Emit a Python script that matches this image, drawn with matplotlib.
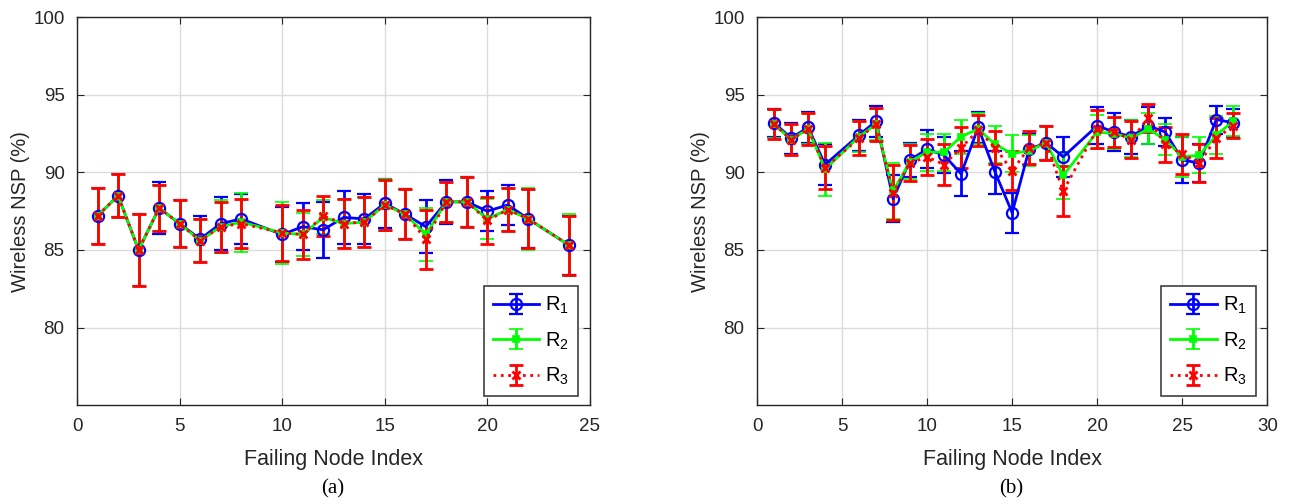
import matplotlib
matplotlib.use("Agg")
import matplotlib.pyplot as plt

plt.rcParams['font.family'] = ['Liberation Sans', 'DejaVu Sans']
plt.rcParams['mathtext.default'] = 'regular'

# ---- panel (a) ----
xa = [1, 2, 3, 4, 5, 6, 7, 8, 10, 11, 12, 13, 14, 15, 16, 17, 18, 19, 20, 21, 22, 24]
a_r1 = [87.2, 88.5, 85.0, 87.7, 86.7, 85.7, 86.7, 87.0, 86.0, 86.5, 86.3, 87.1, 87.0, 88.0, 87.3, 86.5, 88.1, 88.1, 87.5, 87.9, 87.0, 85.3]
a_r2 = [87.2, 88.5, 85.0, 87.7, 86.7, 85.6, 86.5, 86.8, 86.1, 86.0, 87.1, 86.7, 86.8, 87.9, 87.3, 86.0, 88.1, 88.1, 87.0, 87.6, 87.0, 85.3]
a_r3 = [87.2, 88.5, 85.0, 87.7, 86.7, 85.6, 86.5, 86.7, 86.1, 86.0, 87.2, 86.7, 86.8, 87.9, 87.3, 85.7, 88.1, 88.1, 86.9, 87.6, 87.0, 85.3]
a_e1 = [1.8, 1.4, 2.3, 1.7, 1.5, 1.5, 1.7, 1.6, 1.8, 1.5, 1.8, 1.7, 1.6, 1.6, 1.6, 1.7, 1.4, 1.6, 1.3, 1.3, 1.9, 1.9]
a_e2 = [1.8, 1.4, 2.3, 1.5, 1.5, 1.4, 1.7, 1.9, 2.0, 1.4, 1.1, 1.6, 1.6, 1.7, 1.6, 1.7, 1.3, 1.6, 1.3, 1.4, 2.0, 2.0]
a_e3 = [1.8, 1.4, 2.3, 1.5, 1.5, 1.4, 1.6, 1.6, 1.8, 1.6, 1.3, 1.6, 1.6, 1.6, 1.6, 1.9, 1.3, 1.6, 1.5, 1.4, 1.9, 1.9]

# ---- panel (b) ----
xb = [1, 2, 3, 4, 6, 7, 8, 9, 10, 11, 12, 13, 14, 15, 16, 17, 18, 20, 21, 22, 23, 24, 25, 26, 27, 28]
b_r1 = [93.2, 92.2, 92.9, 90.5, 92.4, 93.3, 88.3, 90.8, 91.5, 91.1, 89.9, 92.9, 90.0, 87.4, 91.5, 91.9, 91.0, 93.0, 92.6, 92.3, 93.0, 92.6, 90.8, 90.6, 93.4, 93.2]
b_r2 = [93.1, 92.1, 92.8, 90.2, 92.3, 93.1, 88.8, 90.7, 91.3, 91.3, 92.3, 92.8, 91.8, 91.2, 91.4, 91.9, 89.8, 92.6, 92.5, 92.2, 92.8, 92.1, 91.0, 91.1, 92.4, 93.3]
b_r3 = [93.1, 92.1, 92.8, 90.3, 92.2, 93.1, 88.7, 90.6, 91.0, 90.5, 91.6, 92.7, 91.6, 90.1, 91.6, 91.9, 88.8, 92.8, 92.6, 92.1, 93.5, 91.8, 91.2, 90.6, 92.2, 93.0]
b_e1 = [0.9, 1.0, 1.0, 1.3, 1.0, 1.0, 1.5, 1.1, 1.2, 1.15, 1.45, 1.0, 1.4, 1.3, 1.0, 1.1, 1.3, 1.2, 1.2, 1.1, 1.2, 0.9, 1.5, 1.2, 0.9, 0.9]
b_e2 = [0.9, 1.0, 1.0, 1.7, 1.0, 1.0, 1.8, 1.1, 1.2, 1.2, 1.1, 1.0, 1.2, 1.2, 1.0, 1.1, 1.5, 1.1, 1.0, 1.2, 1.0, 1.0, 1.3, 1.15, 1.2, 0.95]
b_e3 = [0.95, 1.0, 1.05, 1.4, 1.1, 1.05, 1.75, 1.15, 1.15, 1.3, 1.3, 1.0, 1.05, 1.25, 1.05, 1.1, 1.6, 1.2, 0.95, 1.2, 0.9, 1.1, 1.3, 1.2, 1.3, 0.8]

series_labels = ['R$_1$', 'R$_2$', 'R$_3$']
y_ticks = [80, 85, 90, 95, 100]

fig = plt.figure(figsize=(12.95, 5.04), dpi=100)
ax_a = fig.add_axes([0.0595, 0.196, 0.396, 0.770])
ax_b = fig.add_axes([0.5846, 0.196, 0.394, 0.770])


def draw_panel(ax, x, ys, errs, xlim, xticks):
    styles = [
        dict(color=(0, 0, 1), ls='-', marker='o', mfc='none', ms=8, mew=1.6),
        dict(color=(0, 1, 0), ls='-', marker='s', mfc=(0, 1, 0), ms=5, mew=1.2),
        dict(color=(1, 0, 0), ls=':', marker='x', mfc=(1, 0, 0), ms=6, mew=2.0),
    ]
    handles = []
    for y, e, st, lab in zip(ys, errs, styles, series_labels):
        h = ax.errorbar(x, y, yerr=e, lw=2.0, capsize=5, capthick=2.0,
                        elinewidth=2.0, label=lab, zorder=3, **st)
        handles.append(h)
    ax.set_xlim(*xlim)
    ax.set_ylim(75, 100)
    ax.set_xticks(xticks)
    ax.set_yticks(y_ticks)
    ax.grid(True, color='#dcdcdc', lw=1.0)
    ax.set_axisbelow(True)
    ax.tick_params(direction='in', top=True, right=True, length=5,
                   labelsize=13.5, color='#262626', labelcolor='#262626')
    ax.tick_params(axis='x', pad=9)
    ax.tick_params(axis='y', pad=9)
    for sp in ax.spines.values():
        sp.set_color('#262626')
        sp.set_linewidth(1.0)
    ax.set_xlabel('Failing Node Index', fontsize=15.5, color='#262626', labelpad=10)
    ax.set_ylabel('Wireless NSP (%)', fontsize=14.5, color='#262626', labelpad=2)
    leg = ax.legend(handles=handles, loc='lower right', fontsize=14.5,
                    fancybox=False, framealpha=1, edgecolor='#404040',
                    handlelength=2.3, handletextpad=0.3, borderaxespad=0.45,
                    labelspacing=0.7, borderpad=0.45,
                    bbox_to_anchor=(0.995, 0.0))
    leg.get_frame().set_linewidth(1.2)


draw_panel(ax_a, xa, [a_r1, a_r2, a_r3], [a_e1, a_e2, a_e3], (0, 25), [0, 5, 10, 15, 20, 25])
draw_panel(ax_b, xb, [b_r1, b_r2, b_r3], [b_e1, b_e2, b_e3], (0, 30), [0, 5, 10, 15, 20, 25, 30])

fig.text(0.257, 0.03, '(a)', family='Liberation Serif', fontsize=15, ha='center', va='center')
fig.text(0.781, 0.03, '(b)', family='Liberation Serif', fontsize=15, ha='center', va='center')

fig.savefig('out.png', dpi=100, facecolor='white')
